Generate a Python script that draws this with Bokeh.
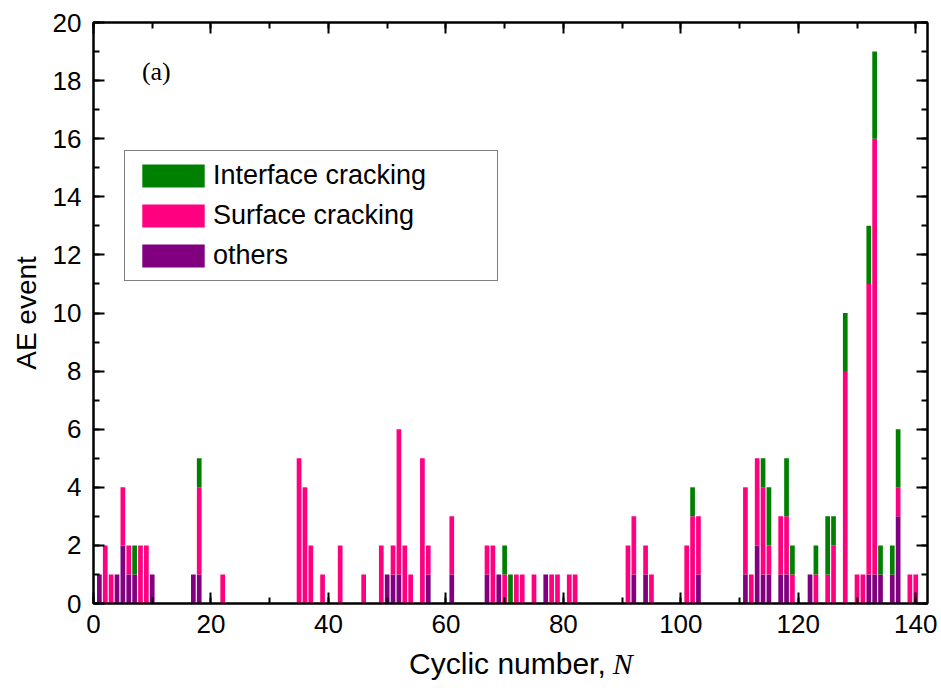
from bokeh.plotting import figure
from bokeh.layouts import column
from bokeh.models import (ColumnDataSource, SingleIntervalTicker, LinearAxis,
                          Legend, LegendItem, Label, Range1d)
from bokeh.embed import file_html
from bokeh.resources import INLINE

# AE events per loading cycle, split by source mechanism
cycle = [1, 2, 3, 4, 5, 6, 7, 8, 9, 10, 17, 18, 22,
         35, 36, 37, 39, 42, 46, 49, 50, 51, 52, 53, 54, 56, 57, 61,
         67, 68, 69, 70, 71, 72, 73, 75, 77, 78, 79, 81, 82,
         91, 92, 94, 95, 101, 102, 103,
         111, 112, 113, 114, 115, 117, 118, 119, 122, 123, 125, 126, 128,
         130, 131, 132, 133, 134, 136, 137, 139, 140]
others = [1, 0, 0, 1, 2, 1, 1, 0, 0, 1, 1, 1, 0,
          0, 0, 0, 0, 0, 0, 0, 1, 1, 1, 0, 0, 0, 1, 1,
          1, 0, 1, 0, 0, 0, 0, 0, 1, 0, 0, 0, 0,
          0, 1, 1, 0, 0, 0, 1,
          1, 0, 2, 1, 1, 1, 1, 0, 1, 0, 0, 0, 0,
          0, 0, 1, 1, 1, 1, 3, 0, 0]
surface = [0, 2, 1, 0, 2, 1, 0, 2, 2, 0, 0, 3, 1,
           5, 4, 2, 1, 2, 1, 2, 0, 1, 5, 2, 1, 5, 1, 2,
           1, 2, 0, 1, 0, 1, 1, 1, 0, 1, 1, 1, 1,
           2, 2, 1, 1, 2, 3, 2,
           3, 1, 3, 3, 1, 2, 2, 1, 0, 1, 1, 2, 8,
           1, 1, 10, 15, 0, 0, 1, 1, 1]
interface = [0, 0, 0, 0, 0, 0, 1, 0, 0, 0, 0, 1, 0,
             0, 0, 0, 0, 0, 0, 0, 0, 0, 0, 0, 0, 0, 0, 0,
             0, 0, 0, 1, 1, 0, 0, 0, 0, 0, 0, 0, 0,
             0, 0, 0, 0, 0, 1, 0,
             0, 0, 0, 1, 2, 0, 2, 1, 0, 1, 2, 1, 2,
             0, 0, 2, 3, 1, 1, 2, 0, 0]

GREEN = "#008000"
PINK = "#FF0080"
PURPLE = "#800080"
FONT = "Liberation Sans"

src = ColumnDataSource(dict(N=cycle, others=others, surface=surface,
                            interface=interface))

# main chart: frame spans 93..927 horizontally and 22..603 vertically
p = figure(width=941, height=644, frame_width=834, frame_height=581,
           x_range=Range1d(0, 142), y_range=Range1d(0, 20),
           output_backend="svg", toolbar_location=None,
           min_border_left=93, min_border_right=14,
           min_border_top=22, min_border_bottom=41,
           x_axis_type=None, y_axis_type=None)
p.xgrid.visible = False
p.ygrid.visible = False
p.outline_line_color = "black"
p.outline_line_width = 2
p.background_fill_color = "white"
p.border_fill_color = "white"

bars = p.vbar_stack(["others", "surface", "interface"], x="N", width=0.8,
                    color=[PURPLE, PINK, GREEN], line_color=None, source=src)


def make_axis(ticker, show_labels):
    ax = LinearAxis(ticker=ticker)
    ax.axis_line_width = 2
    ax.major_tick_line_width = 2
    ax.minor_tick_line_width = 2
    ax.major_tick_in = 11
    ax.major_tick_out = 0
    ax.minor_tick_in = 6
    ax.minor_tick_out = 0
    ax.major_label_text_font = FONT
    ax.major_label_text_color = "black"
    if show_labels:
        ax.major_label_text_font_size = "26px"
        ax.major_label_standoff = 11
    else:
        # mirror axis: ticks only
        ax.major_label_text_font_size = "1px"
        ax.major_label_text_color = None
        ax.major_label_standoff = 0
        ax.axis_label_standoff = 0
    return ax


xticks = SingleIntervalTicker(interval=20, num_minor_ticks=2)
yticks = SingleIntervalTicker(interval=2, num_minor_ticks=2)

p.add_layout(make_axis(xticks, True), "below")
p.add_layout(make_axis(xticks, False), "above")

yl = make_axis(yticks, True)
yl.major_label_standoff = 12
yl.axis_label = "AE event"
yl.axis_label_text_font = FONT
yl.axis_label_text_font_style = "normal"
yl.axis_label_text_font_size = "28px"
yl.axis_label_text_color = "black"
yl.axis_label_standoff = 8
p.add_layout(yl, "left")
p.add_layout(make_axis(yticks, False), "right")

p.add_layout(Label(x=10.7, y=18.3, text="(a)", text_font="Liberation Serif",
                   text_font_size="26px", text_color="black",
                   text_align="center", text_baseline="middle"))

legend = Legend(items=[
    LegendItem(label="Interface cracking", renderers=[bars[2]]),
    LegendItem(label="Surface cracking", renderers=[bars[1]]),
    LegendItem(label="others", renderers=[bars[0]]),
], location=(31, 322))
legend.label_text_font = FONT
legend.label_text_font_size = "27px"
legend.label_text_color = "black"
legend.glyph_width = 78
legend.glyph_height = 29
legend.label_standoff = 1
legend.label_width = 275
legend.padding = 9
legend.spacing = 9
legend.margin = 0
legend.border_line_color = "black"
legend.border_line_width = 1
legend.background_fill_alpha = 1
p.add_layout(legend, "center")

# strip under the chart carrying the x-axis title (plain text + italic symbol)
t = figure(width=941, height=52, x_range=Range1d(0, 941), y_range=Range1d(0, 52),
           output_backend="svg", toolbar_location=None, min_border=0,
           x_axis_type=None, y_axis_type=None)
t.xgrid.visible = False
t.ygrid.visible = False
t.outline_line_color = None
t.add_layout(Label(x=578, y=33, text="Cyclic number,", text_font=FONT,
                   text_font_size="30px", text_color="black",
                   text_align="right", text_baseline="middle"))
t.add_layout(Label(x=586, y=33, text="N", text_font="Liberation Serif",
                   text_font_style="italic", text_font_size="30px",
                   text_color="black", text_align="left",
                   text_baseline="middle"))

layout = column(p, t, spacing=0)
open("out.html", "w").write(file_html(layout, INLINE))
